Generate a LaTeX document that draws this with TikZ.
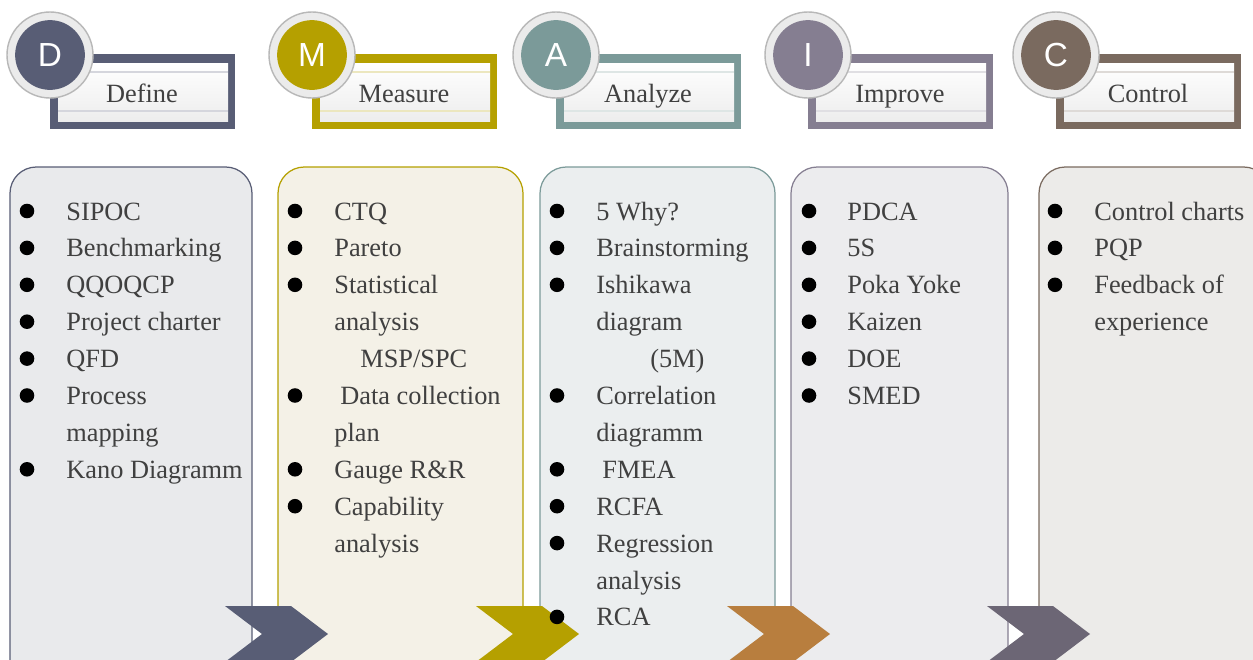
\documentclass[tikz,border=0pt]{standalone}
\usepackage{fontspec}
\setmainfont{Liberation Serif}
\newfontfamily\letterfont{Liberation Sans}
\definecolor{cD}{HTML}{585D75}
\definecolor{cM}{HTML}{B5A000}
\definecolor{cA}{HTML}{7B9A99}
\definecolor{cI}{HTML}{857E91}
\definecolor{cC}{HTML}{7A6A5F}
\definecolor{fD}{HTML}{E9EAEC}
\definecolor{fM}{HTML}{F4F1E7}
\definecolor{fA}{HTML}{EBEEEF}
\definecolor{fI}{HTML}{ECECEE}
\definecolor{fC}{HTML}{ECEBE9}
\definecolor{chA}{HTML}{B87E3E}
\definecolor{chI}{HTML}{6C6675}
\definecolor{txt}{HTML}{404040}
\tikzset{
  itemtext/.style={anchor=base west, inner sep=0pt, text=txt, font=\fontsize{15}{18}\selectfont},
  bulletdot/.style={circle, fill=black, inner sep=0pt, minimum size=8.3pt},
  headlabel/.style={anchor=base, text=txt, inner sep=0pt, font=\fontsize{15}{18}\selectfont},
  letter/.style={text=white, inner sep=0pt, font=\letterfont\fontsize{19}{20}\selectfont},
  panel/.style={rounded corners=15, line width=0.7pt},
}
\newcommand{\bitem}[5]{%
  \node[bulletdot] (b#1) at (#2,{211+36.9*#4}) {};
  \node[itemtext] (t#1) at (#3,{220+36.9*#4}) {#5};}
\newcommand{\citem}[4]{%
  \node[itemtext] (t#1) at (#2,{220+36.9*#3}) {#4};}
\newcommand{\phasehead}[5]{% name, cx, color, letter, label
  \fill[#3] (#2,54) rectangle (#2+185,129);
  \shade[top color=white, bottom color=black!7] (#2+8,63) rectangle (#2+178,121);
  \draw[#3!25, line width=0.6pt] (#2+8,72) -- (#2+178,72);
  \draw[#3!25, line width=0.6pt] (#2+8,111) -- (#2+178,111);
  \node[headlabel] (h#1) at (#2+92,102) {#5};
  \draw[fill=black!8, draw=black!28, line width=0.8pt] (#2,55) circle (43);
  \node[circle, fill=#3, minimum size=39.7pt, inner sep=0pt] (c#1) at (#2,55) {};
  \node[letter] (l#1) at (c#1) {#4};}
\newcommand{\chev}[3]{% left x, notch offset, color
  \fill[#3] (#1,606) -- (#1+66,606) -- (#1+103,634) -- (#1+66,662) -- (#1,662) -- (#1+37,634) -- cycle;}
\begin{document}
\begin{tikzpicture}[x=0.02cm, y=-0.02cm]
\useasboundingbox (0,0) rectangle (1253,659);
\fill[white] (0,0) rectangle (1253,659);
\begin{scope}
\clip (0,0) rectangle (1253,659);
% panels
\draw[panel, fill=fD, draw=cD] (10,700) -- (10,167) -- (252,167) -- (252,700);
\draw[panel, fill=fM, draw=cM] (278,700) -- (278,167) -- (523,167) -- (523,700);
\draw[panel, fill=fA, draw=cA] (540,700) -- (540,167) -- (775,167) -- (775,700);
\draw[panel, fill=fI, draw=cI] (791,700) -- (791,167) -- (1008,167) -- (1008,700);
\draw[panel, fill=fC, draw=cC] (1039,700) -- (1039,167) -- (1270,167) -- (1270,700);
% chevrons
\chev{225}{37}{cD}
\chev{476}{37}{cM}
\chev{727}{37}{chA}
\chev{987}{37}{chI}
\end{scope}
% headers
\phasehead{D}{50}{cD}{D}{Define}
\phasehead{M}{312}{cM}{M}{Measure}
\phasehead{A}{556}{cA}{A}{Analyze}
\phasehead{I}{808}{cI}{I}{Improve}
\phasehead{C}{1056}{cC}{C}{Control}
% Define items
\bitem{d1}{27}{66}{0}{SIPOC}
\bitem{d2}{27}{66}{1}{Benchmarking}
\bitem{d3}{27}{66}{2}{QQOQCP}
\bitem{d4}{27}{66}{3}{Project charter}
\bitem{d5}{27}{66}{4}{QFD}
\bitem{d6}{27}{66}{5}{Process}
\citem{d7}{66}{6}{mapping}
\bitem{d8}{27}{66}{7}{Kano Diagramm}
% Measure items
\bitem{m1}{295}{334}{0}{CTQ}
\bitem{m2}{295}{334}{1}{Pareto}
\bitem{m3}{295}{334}{2}{Statistical}
\citem{m4}{334}{3}{analysis}
\citem{m5}{360}{4}{MSP/SPC}
\bitem{m6}{295}{340}{5}{Data collection}
\citem{m7}{334}{6}{plan}
\bitem{m8}{295}{334}{7}{Gauge R\&R}
\bitem{m9}{295}{334}{8}{Capability}
\citem{m10}{334}{9}{analysis}
% Analyze items
\bitem{a1}{557}{596}{0}{5 Why?}
\bitem{a2}{557}{596}{1}{Brainstorming}
\bitem{a3}{557}{596}{2}{Ishikawa}
\citem{a4}{596}{3}{diagram}
\citem{a5}{650}{4}{(5M)}
\bitem{a6}{557}{596}{5}{Correlation}
\citem{a7}{596}{6}{diagramm}
\bitem{a8}{557}{602}{7}{FMEA}
\bitem{a9}{557}{596}{8}{RCFA}
\bitem{a10}{557}{596}{9}{Regression}
\citem{a11}{596}{10}{analysis}
\bitem{a12}{557}{596}{11}{RCA}
% Improve items
\bitem{i1}{809}{847}{0}{PDCA}
\bitem{i2}{809}{847}{1}{5S}
\bitem{i3}{809}{847}{2}{Poka Yoke}
\bitem{i4}{809}{847}{3}{Kaizen}
\bitem{i5}{809}{847}{4}{DOE}
\bitem{i6}{809}{847}{5}{SMED}
% Control items
\bitem{k1}{1055}{1094}{0}{Control charts}
\bitem{k2}{1055}{1094}{1}{PQP}
\bitem{k3}{1055}{1094}{2}{Feedback of}
\citem{k4}{1094}{3}{experience}
\end{tikzpicture}
\end{document}
